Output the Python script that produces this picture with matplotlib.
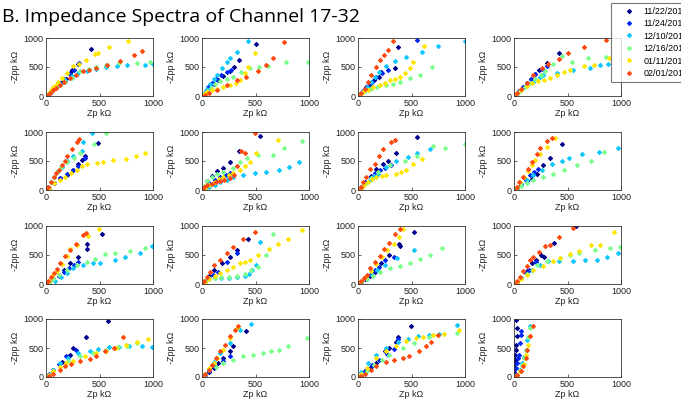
import matplotlib
matplotlib.use("Agg")
import matplotlib.pyplot as plt
from matplotlib.lines import Line2D

# 측정 날짜 (범례)
dates = ["11/22/2010", "11/24/2010", "12/10/2010", "12/16/2010", "01/11/2011", "02/01/2011"]
colors = ["#00008C", "#0028F5", "#10C8FF", "#7CFF8C", "#FFE600", "#FF4A12"]

# 채널별 데이터: 날짜 순서대로 [navy, blue, cyan, green, yellow, orange], 단위 kOhm
ch17_zp = [[0, 10, 25, 45, 70, 100, 130, 150, 185, 222, 247, 300, 423],
           [0, 15, 35, 60, 90, 130, 170, 220, 260, 309],
           [0, 15, 35, 60, 90, 130, 180, 240, 300, 380, 470, 560, 660, 760, 923, 1000],
           [0, 15, 35, 60, 90, 130, 180, 240, 321, 400, 469, 560, 685, 846, 969],
           [0, 10, 25, 45, 70, 95, 114, 150, 200, 253, 310, 377, 454, 485, 593, 762],
           [0, 20, 40, 65, 95, 130, 170, 220, 280, 346, 400, 469, 568, 691, 824, 901]]
ch17_zpp = [[0, 15, 40, 75, 120, 170, 210, 240, 300, 394, 451, 560, 806],
            [0, 25, 60, 105, 160, 230, 300, 380, 450, 566],
            [0, 30, 65, 110, 160, 215, 280, 340, 390, 430, 470, 500, 509, 530, 543, 554],
            [0, 25, 55, 95, 140, 190, 250, 310, 423, 460, 497, 530, 566, 577, 594],
            [0, 20, 50, 95, 150, 195, 234, 310, 394, 509, 560, 623, 726, 749, 851, 949],
            [0, 25, 55, 95, 140, 190, 250, 310, 370, 423, 450, 480, 537, 611, 703, 771]]

ch18_zp = [[0, 20, 45, 75, 110, 150, 200, 262, 300, 348, 508],
           [0, 15, 35, 60, 90, 130, 180, 230, 270],
           [0, 20, 45, 77, 110, 138, 185, 230, 262, 323, 431],
           [0, 20, 45, 80, 120, 170, 230, 292, 360, 446, 530, 615, 785, 990],
           [0, 20, 50, 90, 138, 200, 262, 320, 354, 400, 430, 492],
           [0, 30, 70, 138, 231, 323, 415, 523, 600, 668, 769]]
ch18_zpp = [[0, 40, 90, 150, 210, 270, 340, 436, 500, 622, 901],
            [0, 40, 90, 150, 220, 290, 360, 420, 450],
            [0, 55, 120, 215, 290, 360, 477, 580, 651, 767, 942],
            [0, 40, 85, 140, 200, 260, 300, 331, 420, 477, 500, 517, 581, 580],
            [0, 30, 70, 105, 128, 160, 186, 230, 273, 390, 500, 750],
            [0, 20, 50, 99, 186, 273, 331, 436, 535, 651, 930]]

ch19_zp = [[0, 20, 45, 75, 110, 150, 197, 219, 344, 375],
           [0, 25, 55, 90, 130, 170, 220, 280, 553],
           [0, 20, 45, 80, 120, 156, 200, 266, 350, 453, 594, 750, 1000],
           [0, 30, 70, 120, 180, 265, 330, 391, 484, 578, 688],
           [0, 20, 50, 90, 140, 203, 250, 297, 350, 391, 440, 484, 516, 616],
           [0, 30, 62, 94, 125, 166, 203, 240, 281, 328]]
ch19_zpp = [[0, 40, 90, 150, 210, 270, 331, 419, 477, 837],
            [0, 50, 110, 180, 250, 320, 390, 450, 959],
            [0, 40, 90, 160, 240, 331, 420, 517, 600, 680, 767, 855, 953],
            [0, 40, 80, 120, 160, 186, 210, 244, 302, 360, 506],
            [0, 30, 70, 110, 150, 186, 230, 273, 300, 331, 400, 477, 593, 866],
            [0, 60, 128, 244, 360, 506, 622, 700, 797, 942]]

ch20_zp = [[0, 20, 45, 80, 120, 160, 200, 237, 306, 425],
           [0, 20, 45, 80, 120, 160, 200, 259, 306],
           [0, 30, 70, 120, 180, 240, 275, 400, 556, 713, 806, 880],
           [0, 25, 60, 100, 150, 200, 250, 291, 369, 447, 541, 688, 862, 1000],
           [0, 30, 70, 120, 170, 228, 280, 338, 400, 463, 525, 650, 744, 884],
           [0, 30, 70, 119, 181, 259, 322, 416, 509, 650, 862]]
ch20_zpp = [[0, 40, 90, 160, 230, 300, 380, 451, 566, 737],
            [0, 40, 90, 160, 230, 300, 380, 463, 520],
            [0, 50, 110, 180, 250, 320, 366, 394, 440, 480, 537, 560],
            [0, 40, 90, 150, 220, 290, 360, 423, 549, 691, 589, 657, 680, 640],
            [0, 50, 110, 170, 220, 251, 280, 309, 370, 406, 451, 509, 537, 651],
            [0, 50, 120, 223, 366, 480, 554, 634, 737, 840, 966]]

ch21_zp = [[0, 30, 71, 133, 195, 250, 303, 340, 365, 489],
           [0, 30, 71, 133, 195, 250, 303, 360],
           [0, 20, 45, 75, 110, 150, 200, 257, 334, 350, 427],
           [0, 20, 45, 75, 102, 140, 195, 260, 319, 450, 560],
           [0, 30, 71, 130, 180, 230, 288, 340, 381, 474, 536, 628, 752, 845, 923],
           [0, 20, 45, 71, 95, 118, 149, 175, 195, 240, 288, 313]]
ch21_zpp = [[0, 30, 127, 202, 260, 340, 445, 520, 590, 809],
            [0, 35, 120, 200, 270, 350, 420, 560],
            [0, 60, 140, 230, 320, 400, 500, 578, 665, 827, 983],
            [0, 50, 130, 230, 318, 400, 491, 560, 636, 800, 983],
            [0, 40, 116, 180, 231, 290, 347, 410, 451, 474, 491, 509, 532, 578, 636],
            [0, 50, 130, 231, 290, 347, 434, 500, 578, 700, 827, 879]]

ch22_zp = [[0, 20, 50, 90, 140, 200, 262, 348, 538],
           [0, 30, 70, 120, 170, 220, 262],
           [0, 30, 70, 120, 170, 230, 292, 385, 492, 600, 723, 815, 908],
           [0, 20, 50, 90, 140, 200, 292, 354, 420, 520, 662, 769, 938],
           [0, 30, 70, 120, 160, 200, 250, 292, 354, 400, 446, 508, 708],
           [0, 20, 50, 90, 130, 170, 210, 262, 300, 323, 369, 400, 492]]
ch22_zpp = [[0, 60, 150, 240, 320, 376, 491, 665, 925],
            [0, 60, 120, 180, 230, 260, 289],
            [0, 20, 50, 90, 130, 180, 231, 260, 289, 318, 347, 393, 491],
            [0, 70, 150, 220, 280, 318, 376, 491, 560, 610, 607, 723, 838],
            [0, 30, 80, 140, 190, 231, 260, 289, 347, 420, 491, 636, 867],
            [0, 60, 90, 110, 130, 150, 170, 200, 260, 420, 665, 640, 983]]

ch23_zp = [[0, 30, 70, 125, 172, 234, 280, 353, 547],
           [0, 30, 70, 120, 160, 203, 250, 313],
           [0, 25, 60, 110, 150, 188, 266, 359, 469, 547, 672],
           [0, 30, 70, 120, 188, 297, 438, 547, 697, 813, 1000],
           [0, 30, 60, 94, 130, 172, 220, 266, 359, 400, 447, 516, 594],
           [0, 25, 50, 78, 109, 156, 197, 234, 313, 344]]
ch23_zpp = [[0, 40, 120, 237, 367, 452, 500, 638, 921],
            [0, 50, 130, 230, 290, 339, 380, 424],
            [0, 40, 100, 180, 240, 282, 395, 508, 565, 638, 706],
            [0, 40, 110, 200, 311, 424, 508, 582, 751, 723, 791],
            [0, 40, 90, 141, 190, 226, 240, 254, 282, 310, 350, 452, 537],
            [0, 60, 140, 226, 367, 452, 582, 706, 836, 864]]

ch24_zp = [[0, 30, 70, 120, 164, 211, 274, 338, 448],
           [0, 30, 70, 110, 148, 190, 227],
           [0, 30, 70, 120, 180, 259, 353, 448, 511, 637, 795, 968],
           [0, 30, 70, 120, 180, 274, 369, 464, 590, 716, 842],
           [0, 25, 55, 90, 130, 164, 200, 243, 306, 385],
           [0, 25, 50, 85, 132, 164, 211, 243, 306, 353]]
ch24_zpp = [[0, 40, 90, 150, 198, 282, 424, 548, 791],
            [0, 40, 100, 180, 254, 310, 367],
            [0, 40, 100, 170, 254, 339, 452, 508, 548, 621, 661, 723],
            [0, 30, 70, 120, 169, 226, 282, 339, 424, 508, 650],
            [0, 60, 140, 230, 330, 424, 520, 621, 734, 904],
            [0, 60, 140, 226, 367, 480, 621, 718, 847, 904]]

ch25_zp = [[0, 30, 70, 120, 164, 226, 303, 387, 387, 520],
           [0, 30, 70, 120, 170, 211, 260, 303],
           [0, 30, 80, 140, 200, 257, 350, 443, 505, 644, 737, 876, 994],
           [0, 30, 70, 120, 195, 288, 381, 458, 551, 644, 783, 923],
           [0, 30, 60, 100, 150, 200, 226, 294, 396, 495],
           [0, 20, 45, 71, 102, 133, 180, 226, 282, 344, 372]]
ch25_zpp = [[0, 30, 80, 150, 240, 354, 469, 611, 697, 869],
            [0, 30, 80, 140, 210, 269, 330, 383],
            [0, 20, 60, 120, 190, 269, 326, 366, 366, 411, 469, 526, 651],
            [0, 30, 80, 150, 240, 326, 383, 423, 514, 526, 571, 623],
            [0, 60, 130, 230, 350, 480, 611, 669, 823, 954],
            [0, 50, 120, 183, 251, 354, 480, 583, 697, 840, 880]]

ch26_zp = [[0, 30, 70, 108, 185, 262, 329, 431],
           [0, 25, 60, 100, 154, 231, 323],
           [0, 30, 70, 120, 180, 250, 330, 400, 440, 470, 500, 538],
           [0, 30, 70, 120, 180, 250, 330, 400, 460, 520, 600, 668],
           [0, 30, 70, 120, 169, 231, 292, 354, 400, 446, 523, 625, 708, 800, 935],
           [0, 20, 46, 77, 108, 169, 231, 292, 385, 492]]
ch26_zpp = [[0, 60, 140, 240, 354, 469, 583, 783],
            [0, 40, 100, 160, 211, 383, 537],
            [0, 50, 90, 100, 100, 105, 115, 140, 180, 250, 330, 726],
            [0, 60, 100, 110, 115, 120, 140, 180, 240, 300, 500, 869],
            [0, 40, 90, 140, 183, 240, 297, 354, 380, 411, 497, 600, 697, 783, 937],
            [0, 60, 126, 211, 326, 411, 526, 640, 783, 897]]

ch27_zp = [[0, 30, 70, 110, 161, 214, 286, 379, 388, 519],
           [0, 30, 70, 120, 160, 193, 255, 332],
           [0, 30, 80, 130, 177, 255, 363, 519],
           [0, 30, 80, 140, 208, 301, 394, 488, 581, 674, 783],
           [0, 30, 70, 120, 170, 220, 270, 332, 379, 425],
           [0, 30, 55, 84, 115, 161, 202, 239, 286, 348, 394]]
ch27_zpp = [[0, 30, 80, 140, 211, 354, 497, 697, 651, 897],
            [0, 40, 100, 170, 240, 297, 411, 469],
            [0, 30, 80, 160, 240, 326, 440, 583],
            [0, 30, 80, 140, 211, 269, 309, 366, 423, 497, 629],
            [0, 50, 120, 230, 350, 470, 583, 697, 811, 954],
            [0, 50, 100, 154, 269, 383, 480, 611, 709, 857, 943]]

ch28_zp = [[0, 30, 70, 120, 166, 206, 250, 284, 375, 575],
           [0, 30, 70, 110, 144, 206],
           [0, 30, 70, 120, 166, 244, 322, 416, 556, 666, 775, 869, 969],
           [0, 30, 70, 120, 213, 306, 431, 520, 603, 759, 900, 994],
           [0, 30, 70, 120, 181, 275, 369, 431, 520, 603, 719, 806, 931],
           [0, 25, 55, 88, 119, 150, 181, 238, 291, 338, 416, 550]]
ch28_zpp = [[0, 40, 110, 220, 360, 417, 503, 474, 714, 1000],
            [0, 40, 110, 190, 246, 371],
            [0, 40, 100, 170, 246, 331, 389, 389, 389, 406, 417, 457, 543],
            [0, 40, 100, 180, 331, 389, 446, 500, 531, 589, 617, 646],
            [0, 30, 80, 150, 234, 303, 400, 446, 510, 577, 674, 674, 891],
            [0, 50, 120, 217, 303, 406, 474, 560, 657, 674, 806, 966]]

ch29_zp = [[0, 30, 70, 145, 222, 253, 370, 577],
           [0, 30, 70, 120, 191, 284],
           [0, 30, 70, 130, 207, 299, 407, 485, 593, 680, 778, 901, 990],
           [0, 30, 70, 130, 207, 315, 438, 562, 670, 760, 855],
           [0, 30, 70, 130, 190, 253, 361, 469, 560, 654, 747, 855, 957],
           [0, 30, 70, 130, 176, 238, 315, 407, 469, 556, 639, 716]]
ch29_zpp = [[0, 40, 120, 251, 383, 497, 697, 971],
            [0, 50, 120, 220, 354, 469],
            [0, 40, 120, 240, 326, 411, 440, 480, 514, 520, 526, 526, 509],
            [0, 40, 100, 180, 269, 354, 411, 469, 509, 540, 594],
            [0, 40, 100, 180, 240, 269, 354, 411, 450, 497, 554, 611, 651],
            [0, 20, 60, 126, 183, 223, 269, 309, 354, 440, 497, 686]]

ch30_zp = [[0, 30, 70, 110, 154, 200, 262, 292, 415],
           [0, 30, 70, 120, 194, 262],
           [0, 30, 70, 110, 169, 262, 354, 462],
           [0, 30, 70, 130, 200, 292, 385, 477, 569, 646, 723, 800, 985],
           [0, 30, 70, 110, 138, 200, 262, 329],
           [0, 30, 62, 92, 132, 169, 215, 262, 308, 338]]
ch30_zpp = [[0, 30, 80, 150, 241, 328, 443, 529, 787],
            [0, 40, 100, 180, 270, 368],
            [0, 50, 130, 260, 414, 586, 816, 920],
            [0, 50, 120, 180, 241, 299, 356, 385, 414, 443, 471, 529, 672],
            [0, 60, 150, 250, 328, 471, 672, 845],
            [0, 60, 126, 213, 328, 443, 557, 701, 816, 874]]

ch31_zp = [[0, 30, 70, 120, 170, 248, 294, 356, 372, 495],
           [0, 30, 70, 130, 200, 270, 341, 372],
           [0, 30, 93, 170, 263, 372, 464, 557, 660, 759, 929],
           [0, 30, 80, 150, 220, 294, 418, 526, 666, 743, 929],
           [0, 30, 80, 170, 263, 356, 449, 542, 604, 700, 800, 944],
           [0, 30, 70, 124, 170, 263, 341, 418, 480, 573, 635, 681, 752]]
ch31_zpp = [[0, 40, 100, 170, 241, 443, 500, 598, 690, 885],
            [0, 40, 110, 200, 300, 400, 483, 655],
            [0, 80, 241, 385, 500, 598, 655, 713, 730, 747, 902],
            [0, 40, 110, 200, 290, 385, 500, 586, 690, 730, 759],
            [0, 50, 150, 328, 443, 529, 615, 672, 690, 720, 750, 805],
            [0, 20, 60, 126, 184, 253, 299, 328, 356, 443, 529, 598, 730]]

ch32_zp = [[0, 3, 6, 8, 10, 12, 15, 18, 25, 30, 22],
           [0, 10, 20, 31, 40, 46, 55, 62, 70],
           [0, 30, 55, 77, 95, 108, 123, 154],
           [0, 30, 55, 77, 95, 108, 132, 148],
           [0, 30, 60, 90, 108, 130, 150],
           [0, 30, 62, 86, 108, 123, 148, 178]]
ch32_zpp = [[0, 80, 160, 240, 300, 380, 470, 560, 700, 845, 990],
            [0, 60, 150, 241, 320, 385, 586, 730, 790],
            [0, 40, 120, 241, 350, 471, 644, 874],
            [0, 30, 100, 213, 330, 471, 684, 845],
            [0, 30, 100, 220, 385, 550, 700],
            [0, 40, 98, 184, 328, 471, 701, 874]]

panels_zp = [ch17_zp, ch18_zp, ch19_zp, ch20_zp, ch21_zp, ch22_zp, ch23_zp, ch24_zp,
             ch25_zp, ch26_zp, ch27_zp, ch28_zp, ch29_zp, ch30_zp, ch31_zp, ch32_zp]
panels_zpp = [ch17_zpp, ch18_zpp, ch19_zpp, ch20_zpp, ch21_zpp, ch22_zpp, ch23_zpp, ch24_zpp,
              ch25_zpp, ch26_zpp, ch27_zpp, ch28_zpp, ch29_zpp, ch30_zpp, ch31_zpp, ch32_zpp]

plt.rcParams["font.family"] = ["Liberation Sans", "DejaVu Sans"]
W, H = 681, 400
fig = plt.figure(figsize=(W / 100, H / 100), dpi=100)

star = (8, 2, 0)  # 별표 마커 (MATLAB '*')
lefts = [46, 202, 358, 514]
tops = [38, 132, 226, 319]

for i in range(16):
    r, c = divmod(i, 4)
    ax = fig.add_axes([lefts[c] / W, 1 - (tops[r] + 58) / H, 107 / W, 58 / H])
    for k in range(6):
        ax.plot(panels_zp[i][k], panels_zpp[i][k], linestyle="none", marker=star,
                markersize=3.0, markeredgewidth=0.8, color=colors[k])
    ax.set_xlim(0, 1000)
    ax.set_ylim(0, 1000)
    ax.set_xticks([0, 500, 1000])
    ax.set_yticks([0, 500, 1000])
    ax.tick_params(direction="in", length=2, width=0.5, labelsize=6.5, pad=2, colors="#222222")
    for s in ax.spines.values():
        s.set_linewidth(0.6)
        s.set_color("#333333")
    ax.set_xlabel("Zp k\u03a9", fontsize=6.5, labelpad=1, color="#222222")
    ax.set_ylabel("-Zpp k\u03a9", fontsize=6.5, labelpad=2, color="#222222")

fig.text(2 / W, 1 - 17 / H, "B. Impedance Spectra of Channel 17-32", fontsize=14,
         family="Open Sans", va="center", ha="left")

handles = [Line2D([], [], linestyle="none", marker=star, markersize=3.0,
                  markeredgewidth=0.8, color=col) for col in colors]
leg = fig.legend(handles, dates, loc="lower left", bbox_to_anchor=(611 / W, 1 - 82 / H),
                 fontsize=6.5, frameon=True, fancybox=False, borderpad=0.45,
                 borderaxespad=0, handlelength=3.0, handletextpad=0.15, labelspacing=0.38)
leg.get_frame().set_edgecolor("#555555")
leg.get_frame().set_linewidth(0.8)

fig.savefig("out.png", dpi=100)
